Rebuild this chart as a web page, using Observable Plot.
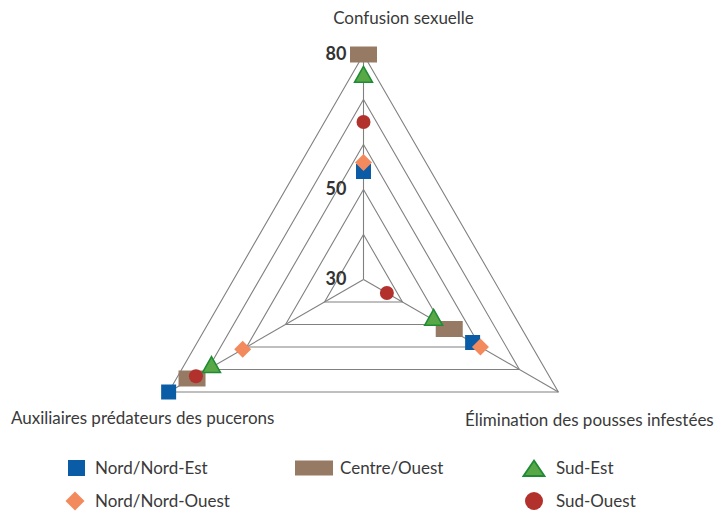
<!DOCTYPE html>
<html>
<head>
<meta charset="utf-8">
<script src="https://cdn.jsdelivr.net/npm/d3@7"></script>
<script src="https://cdn.jsdelivr.net/npm/@observablehq/plot@0.6"></script>
<style>
  html, body { margin: 0; padding: 0; background: #fff; }
  body { width: 716px; height: 511px; overflow: hidden; font-family: Lato, "Open Sans", sans-serif; color: #3a3a3a; }
  #wrap { position: relative; width: 716px; height: 511px; }
  #legend { position: absolute; left: 0; top: 445px; width: 716px; height: 66px; }
  .item { position: absolute; display: flex; align-items: center; font-size: 17px; height: 20px; line-height: 20px; white-space: nowrap; }
  .item svg { display: block; }
</style>
</head>
<body>
<div id="wrap"><div id="chart"></div><div id="legend"></div></div>
<script>
// ---- data ----
const axes = ["Confusion sexuelle", "Élimination des pousses infestées", "Auxiliaires prédateurs des pucerons"];
const series = ["Nord/Nord-Est", "Centre/Ouest", "Sud-Est", "Nord/Nord-Ouest", "Sud-Ouest"];
const valuesNordNordEst   = [54, 58, 80];
const valuesCentreOuest   = [80, 52, 74];
const valuesSudEst        = [75, 48, 69];
const valuesNordNordOuest = [56, 60, 61];
const valuesSudOuest      = [65, 36, 73];
const gridLevels = [40, 50, 60, 70, 80];
const tickLabels = [30, 50, 80];
const rMin = 30, rMax = 80;

const seriesValues = [valuesNordNordEst, valuesCentreOuest, valuesSudEst, valuesNordNordOuest, valuesSudOuest];
const colors = {
  "Nord/Nord-Est": "#0b5ca6",
  "Centre/Ouest": "#967a63",
  "Sud-Est": "#58a847",
  "Nord/Nord-Ouest": "#f28a5d",
  "Sud-Ouest": "#b3312d"
};
const strokes = {"Sud-Est": "#1f8b35"};

// polar helpers
const angle = i => i * 2 * Math.PI / axes.length;
const px = (v, i) => (v - rMin) * Math.sin(angle(i));
const py = (v, i) => (v - rMin) * Math.cos(angle(i));

// custom symbols (pixel sized)
const sym = {
  "Nord/Nord-Est": {draw(c) { c.rect(-7.5, -7.5, 15, 15); }},
  "Centre/Ouest": {draw(c) { c.rect(-13.5, -8, 27, 16); }},
  "Sud-Est": {draw(c) { const w = 18, h = 16; c.moveTo(0, -2*h/3); c.lineTo(w/2, h/3); c.lineTo(-w/2, h/3); c.closePath(); }},
  "Nord/Nord-Ouest": {draw(c) { const r = 8.5; c.moveTo(0, -r); c.lineTo(r, 0); c.lineTo(0, r); c.lineTo(-r, 0); c.closePath(); }},
  "Sud-Ouest": {draw(c) { c.moveTo(7, 0); c.arc(0, 0, 7, 0, 2 * Math.PI); c.closePath(); }}
};

// grid
const gridPts = [];
for (const lv of gridLevels) for (let k = 0; k <= axes.length; k++) {
  const i = k % axes.length;
  gridPts.push({level: lv, x: px(lv, i), y: py(lv, i)});
}
const spokes = axes.map((a, i) => ({axis: a, x: px(rMax, i), y: py(rMax, i)}));
const ticks = tickLabels.map(t => ({t, x: px(t, 0), y: py(t, 0)}));

const pts = [];
series.forEach((s, si) => seriesValues[si].forEach((v, i) => pts.push({series: s, axis: axes[i], v, x: px(v, i), y: py(v, i)})));

const W = 716, H = 445, cx = 363, cy = 279, k = 4.5;
const font = 'Lato, "Open Sans", sans-serif';

const labelOffsets = [[40, -36], [31, 29], [-26, 27]];

const chart = Plot.plot({
  width: W, height: H, margin: 0,
  x: {domain: [-cx / k, (W - cx) / k], axis: null},
  y: {domain: [(cy - H) / k, cy / k], axis: null},
  style: {fontFamily: font, background: "#fff"},
  marks: [
    Plot.line(gridPts, {x: "x", y: "y", z: "level", stroke: "#808080", strokeWidth: 1.1}),
    Plot.link(spokes, {x1: () => 0, y1: () => 0, x2: "x", y2: "y", stroke: "#808080", strokeWidth: 1.1}),
    Plot.text(ticks, {x: "x", y: "y", text: d => String(d.t), textAnchor: "end", dx: -17, fontSize: 18, fontWeight: "bold", fill: "#333"}),
    ...series.map(s => Plot.dot(pts.filter(d => d.series === s), {
      x: "x", y: "y", symbol: () => sym[s], r: 5,
      fill: colors[s], stroke: strokes[s] || "none", strokeWidth: 1.5
    })),
    ...axes.map((a, i) => Plot.text([spokes[i]], {
      x: "x", y: "y", text: "axis", dx: labelOffsets[i][0], dy: labelOffsets[i][1],
      fontSize: 17, fill: "#3a3a3a"
    }))
  ]
});
document.getElementById("chart").appendChild(chart);

// legend
const legendPos = {
  "Nord/Nord-Est": [64, 458],
  "Centre/Ouest": [293, 458],
  "Sud-Est": [522, 458],
  "Nord/Nord-Ouest": [64, 491],
  "Sud-Ouest": [522, 491]
};
const legendSym = {
  "Nord/Nord-Est": `<rect x="4" y="2" width="17" height="16" fill="${colors["Nord/Nord-Est"]}"/>`,
  "Centre/Ouest": `<rect x="2" y="2.5" width="38" height="15" fill="${colors["Centre/Ouest"]}"/>`,
  "Sud-Est": `<path d="M12,2.5 L22.5,18 L1.5,18 Z" fill="${colors["Sud-Est"]}" stroke="${strokes["Sud-Est"]}" stroke-width="1.8"/>`,
  "Nord/Nord-Ouest": `<path d="M11,0.5 L20.5,10 L11,19.5 L1.5,10 Z" fill="${colors["Nord/Nord-Ouest"]}"/>`,
  "Sud-Ouest": `<circle cx="12" cy="10" r="9" fill="${colors["Sud-Ouest"]}"/>`
};
const legendW = {"Nord/Nord-Est": 31, "Centre/Ouest": 47, "Sud-Est": 34, "Nord/Nord-Ouest": 31, "Sud-Ouest": 34};
const leg = document.getElementById("legend");
for (const s of series) {
  const [lx, ly] = legendPos[s];
  const d = document.createElement("div");
  d.className = "item";
  d.style.left = lx + "px";
  d.style.top = (ly - 445) + "px";
  d.innerHTML = `<svg width="${legendW[s]}" height="20">${legendSym[s]}</svg><span>${s}</span>`;
  leg.appendChild(d);
}
</script>
</body>
</html>
